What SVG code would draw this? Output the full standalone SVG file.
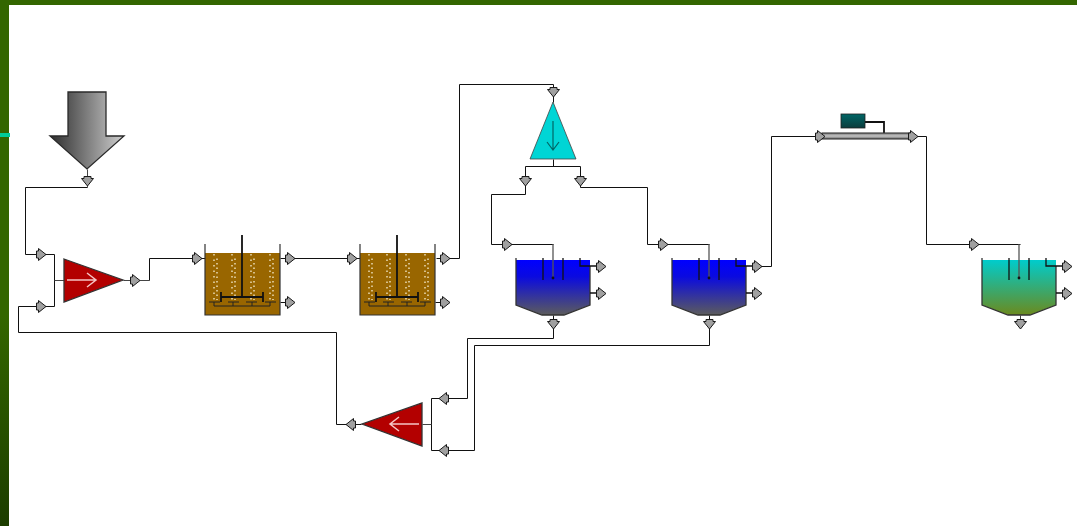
<svg xmlns="http://www.w3.org/2000/svg" width="1077" height="526" viewBox="0 0 1077 526">
<style>
.c{fill:none;stroke:#111;stroke-width:1}
.g{fill:none;stroke:#444;stroke-width:1}
.p{fill:#a0a0a0;stroke:#1a1a1a;stroke-width:1}
.w{fill:none;stroke:#f5c4c4;stroke-width:1.5}
.b{fill:none;stroke:#f0e4c4;stroke-width:1.400}
.o{stroke:#333;stroke-width:1.3}
</style>
<defs>
<linearGradient id="bar" x1="0" y1="0" x2="0" y2="1"><stop offset="0" stop-color="#336600"/><stop offset=".6" stop-color="#336600"/><stop offset="1" stop-color="#1c3d00"/></linearGradient>
<linearGradient id="src" gradientUnits="userSpaceOnUse" x1="50" y1="0" x2="124" y2="0"><stop offset="0" stop-color="#2e2e2e"/><stop offset=".25" stop-color="#555"/><stop offset="1" stop-color="#cfcfcf"/></linearGradient>
<linearGradient id="blue" x1="0" y1="0" x2="0" y2="1"><stop offset="0" stop-color="#0000ff"/><stop offset=".3" stop-color="#0a0ae0"/><stop offset="1" stop-color="#5c5c5c"/></linearGradient>
<linearGradient id="teal" x1="0" y1="0" x2="0" y2="1"><stop offset="0" stop-color="#00cccc"/><stop offset="1" stop-color="#6b8a1e"/></linearGradient>
<linearGradient id="pump" x1="0" y1="0" x2="0" y2="1"><stop offset="0" stop-color="#006666"/><stop offset="1" stop-color="#0c3c3c"/></linearGradient>
<linearGradient id="pipe" x1="0" y1="0" x2="0" y2="1"><stop offset="0" stop-color="#777"/><stop offset=".5" stop-color="#c4c4c4"/><stop offset="1" stop-color="#666"/></linearGradient>
<path id="pr" class="p" d="M-3,-6V-3.500H-5V3.500H-3V6L4.500,0Z"/>
<path id="pl" class="p" d="M3,-6V-3.500H5V3.500H3V6L-4.500,0Z"/>
<path id="pd" class="p" d="M-6,-3H-3.500V-5H3.500V-3H6L0,4.500Z"/>
<g id="tank">
<path d="M0,9H75V71H0Z" fill="#996600"/>
<g class="b">
<path stroke-dasharray="1.500 4" d="M9,10V56M27,10V56M46,10V56M65,10V56"/>
<path stroke-dasharray="1.500 3" stroke-dashoffset="2" d="M12,12V56M30,12V56M49,12V56M68,12V56"/>
</g>
<path d="M0,0V71H75V0" fill="none" stroke="#333" stroke-width="1.200"/>
<path d="M37,-9V53M16,53H58M16,48V58M58,48V58" fill="none" stroke="#111" stroke-width="1.800"/>
<path d="M4,58H15M23,58H34M41,58H52M60,58H71M9,58V62H65V58M28,58V62M47,58V62" fill="none" stroke="#222" stroke-width="1"/>
</g>
<path id="clarShape" d="M0,2H74V47L48,57H26L0,47Z"/>
<g id="clarLines" fill="none">
<path d="M0,0V47L26,57H48L74,47V8" stroke="#333" stroke-width="1.300"/>
<path d="M27,0V22M47,0V22M64,0V8H84M74,35H84" stroke="#111" stroke-width="1.300"/>
<path d="M37,-14V20" stroke="#555" stroke-width="1.300"/>
<circle cx="37" cy="20" r="1.400" fill="#111"/>
</g>
</defs>
<rect width="1077" height="526" fill="#fff"/>
<rect width="1077" height="5" fill="#336600"/>
<rect width="9" height="526" fill="url(#bar)"/>
<rect y="133" width="10" height="4" fill="#00cc99"/>
<g id="connectors" transform="translate(.5,.5)">
<path class="g" d="M87,169V187"/>
<path class="c" d="M87,187H25V254H54V306H18V332H336V424H361"/>
<path class="g" d="M54,280H64M123,280H149"/>
<path class="c" d="M149,280V258H205M280,258H360M280,302H288M435,302H443"/>
<path class="c" d="M436,258H459V84H553V102"/>
<path class="c" d="M553,159V166M525,166H580M525,166V194H491V244H553"/>
<path class="c" d="M580,166V187H647V244H709"/>
<path class="c" d="M553,315V338H467V398H431V450H474V345H709V315"/>
<path class="g" d="M422,424H431"/>
<path class="c" d="M756,266H771V136H820M913,136H926V244H1020"/>
<path class="g" d="M1020,315V322"/>
</g>
<g id="source"><path d="M68,92H106V136H124L87,169L50,136H68Z" fill="url(#src)" stroke="#2a2a2a" stroke-width="1.300"/></g>
<g id="mixer"><path class="o" d="M64,259L123,280L64,302Z" fill="#b30000"/><path class="w" d="M67,280H96M87,273L96,280L87,287"/></g>
<g id="tank1" transform="translate(205,244)"><use href="#tank"/></g>
<g id="tank2" transform="translate(360,244)"><use href="#tank"/></g>
<g id="splitter"><path d="M553,102L576,159H530Z" fill="#00d5d5" stroke="#444" stroke-width=".8"/><path d="M553,121V149M547,142L553,150L559,142" fill="none" stroke="#066" stroke-width="1.200"/></g>
<g id="clarifier1" transform="translate(516,258)"><use href="#clarShape" fill="url(#blue)"/><use href="#clarLines"/></g>
<g id="clarifier2" transform="translate(672,258)"><use href="#clarShape" fill="url(#blue)"/><use href="#clarLines"/></g>
<g id="clarifier3" transform="translate(982,258)"><use href="#clarShape" fill="url(#teal)"/><use href="#clarLines"/></g>
<g id="membrane"><path d="M865,122H884V133" fill="none" stroke="#111" stroke-width="1.800"/><rect x="841" y="114" width="24" height="14" fill="url(#pump)" stroke="#222" stroke-width=".8"/><rect x="822" y="133" width="90" height="6" fill="url(#pipe)" stroke="#333" stroke-width="1.100"/></g>
<g id="recycle-pump"><path class="o" d="M422,403V446L362,424Z" fill="#b30000"/><path class="w" d="M419,424H390M399,417L390,424L399,431"/></g>
<g id="ports" transform="translate(.5,.5)">
<use href="#pd" x="87" y="181"/>
<use href="#pr" x="41" y="254"/><use href="#pr" x="41" y="306"/><use href="#pr" x="135" y="280"/>
<use href="#pr" x="197" y="258"/><use href="#pr" x="290" y="258"/><use href="#pr" x="290" y="302"/>
<use href="#pr" x="352" y="258"/><use href="#pr" x="445" y="258"/><use href="#pr" x="445" y="302"/>
<use href="#pd" x="553" y="92"/><use href="#pd" x="525" y="181"/><use href="#pd" x="580" y="181"/>
<use href="#pr" x="507" y="244"/><use href="#pr" x="601" y="266"/><use href="#pr" x="601" y="293"/><use href="#pd" x="553" y="324"/>
<use href="#pr" x="663" y="244"/><use href="#pr" x="757" y="266"/><use href="#pr" x="757" y="293"/><use href="#pd" x="709" y="324"/>
<use href="#pr" x="820" y="136"/><use href="#pr" x="913" y="136"/>
<use href="#pr" x="974" y="244"/><use href="#pr" x="1067" y="266"/><use href="#pr" x="1067" y="293"/><use href="#pd" x="1020" y="324"/>
<use href="#pl" x="443" y="398"/><use href="#pl" x="443" y="450"/><use href="#pl" x="350" y="424"/>
</g>
</svg>
